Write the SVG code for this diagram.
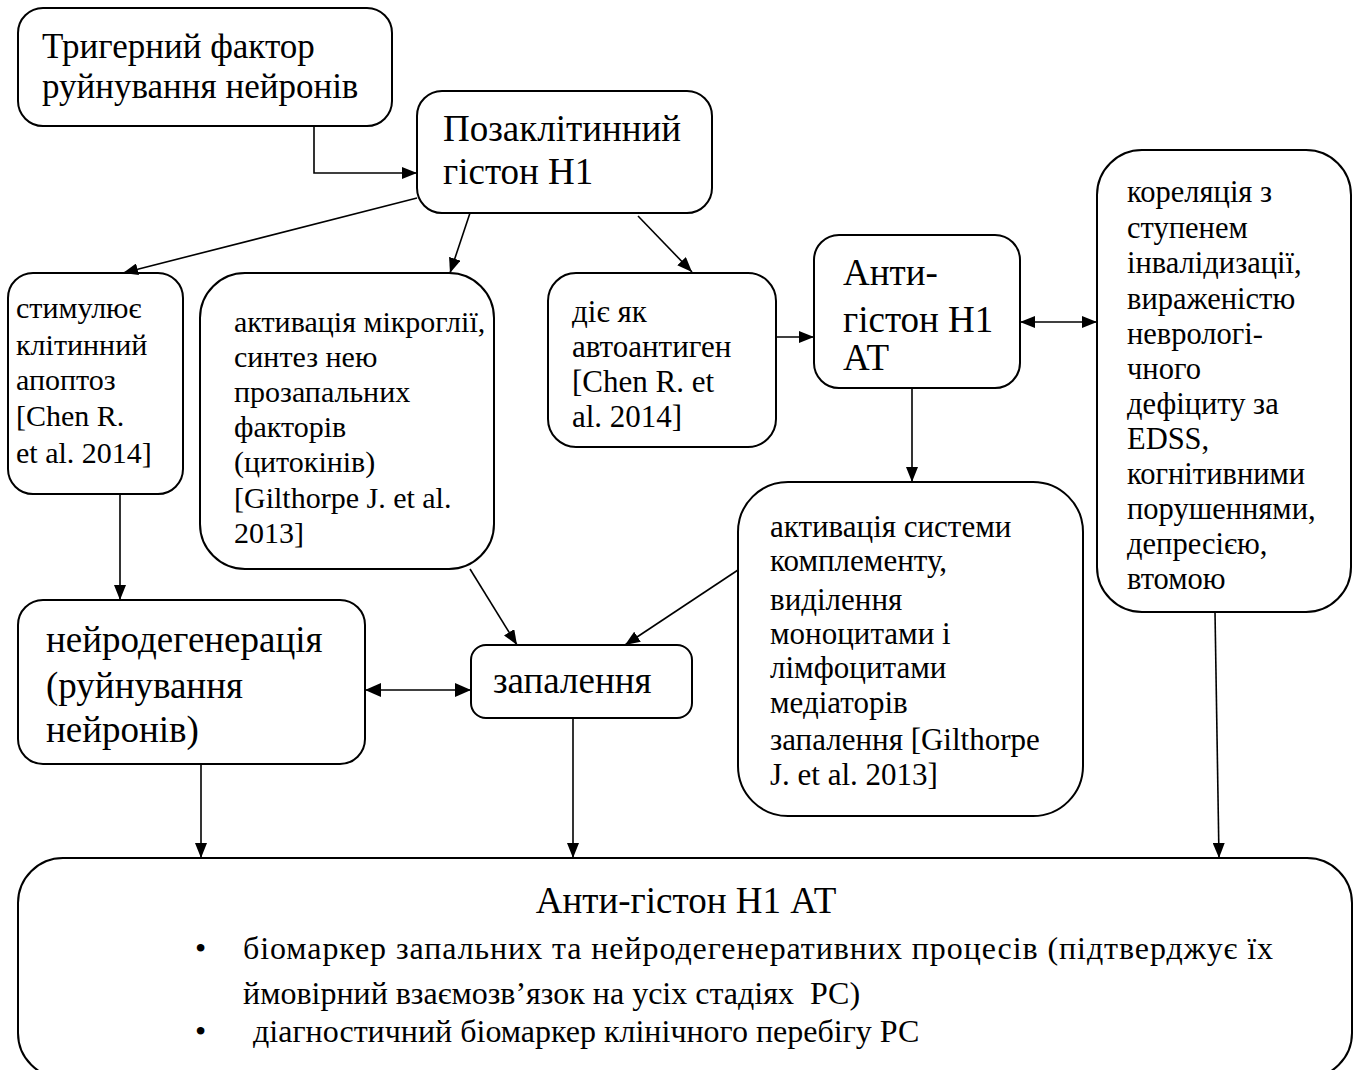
<svg xmlns="http://www.w3.org/2000/svg" width="1357" height="1070" viewBox="0 0 1357 1070">
<defs>
<marker id="ah" viewBox="0 0 15 12" refX="15" refY="6" markerWidth="15" markerHeight="12" markerUnits="userSpaceOnUse" orient="auto-start-reverse"><path d="M0,0 L15,6 L0,12 z" fill="#000"/></marker>
<marker id="ahb" viewBox="0 0 16 14" refX="16" refY="7" markerWidth="16" markerHeight="14" markerUnits="userSpaceOnUse" orient="auto-start-reverse"><path d="M0,0 L16,7 L0,14 z" fill="#000"/></marker>
<style>
.box{fill:#fff;stroke:#000;stroke-width:2}
.t{font-family:"Liberation Serif","Times New Roman",serif;fill:#000}
.c{fill:none;stroke:#000;stroke-width:1.6}
</style>
</defs>
<rect width="1357" height="1070" fill="#fff"/>
<g id="n-trigger"><rect class="box" x="18" y="8" width="374" height="118" rx="25"/>
<text class="t" font-size="35" x="42" y="58">Тригерний фактор</text>
<text class="t" font-size="35" x="42" y="98">руйнування нейронів</text></g>
<g id="n-histone"><rect class="box" x="417" y="91" width="295" height="122" rx="25"/>
<text class="t" font-size="37" x="443" y="141">Позаклітинний</text>
<text class="t" font-size="37" x="443" y="184">гістон Н1</text></g>
<g id="n-apoptosis"><rect class="box" x="8" y="273" width="175" height="221" rx="25"/>
<text class="t" font-size="30" x="16" y="318">стимулює</text>
<text class="t" font-size="30" x="16" y="355">клітинний</text>
<text class="t" font-size="30" x="16" y="390">апоптоз</text>
<text class="t" font-size="30" x="16" y="426">[Chen R.</text>
<text class="t" font-size="30" x="16" y="463">et al. 2014]</text></g>
<g id="n-microglia"><rect class="box" x="200" y="273" width="294" height="296" rx="45"/>
<text class="t" font-size="30" x="234" y="332">активація мікроглії,</text>
<text class="t" font-size="30" x="234" y="367">синтез нею</text>
<text class="t" font-size="30" x="234" y="402">прозапальних</text>
<text class="t" font-size="30" x="234" y="437">факторів</text>
<text class="t" font-size="30" x="234" y="472">(цитокінів)</text>
<text class="t" font-size="30" x="234" y="508">[Gilthorpe J. et al.</text>
<text class="t" font-size="30" x="234" y="543">2013]</text></g>
<g id="n-autoantigen"><rect class="box" x="548" y="273" width="228" height="174" rx="28"/>
<text class="t" font-size="31" x="572" y="322">діє як</text>
<text class="t" font-size="31" x="572" y="357">автоантиген</text>
<text class="t" font-size="31" x="572" y="392">[Chen R. et</text>
<text class="t" font-size="31" x="572" y="427">al. 2014]</text></g>
<g id="n-antibody"><rect class="box" x="814" y="235" width="206" height="153" rx="25"/>
<text class="t" font-size="37" x="843" y="285">Анти-</text>
<text class="t" font-size="37" x="843" y="332">гістон Н1</text>
<text class="t" font-size="37" x="843" y="370">АТ</text></g>
<g id="n-correlation"><rect class="box" x="1097" y="150" width="254" height="462" rx="45"/>
<text class="t" font-size="30.5" x="1127" y="202">кореляція з</text>
<text class="t" font-size="30.5" x="1127" y="238">ступенем</text>
<text class="t" font-size="30.5" x="1127" y="273">інвалідизації,</text>
<text class="t" font-size="30.5" x="1127" y="309">вираженістю</text>
<text class="t" font-size="30.5" x="1127" y="344">неврологі-</text>
<text class="t" font-size="30.5" x="1127" y="379">чного</text>
<text class="t" font-size="30.5" x="1127" y="414">дефіциту за</text>
<text class="t" font-size="30.5" x="1127" y="449">EDSS,</text>
<text class="t" font-size="30.5" x="1127" y="484">когнітивними</text>
<text class="t" font-size="30.5" x="1127" y="519">порушеннями,</text>
<text class="t" font-size="30.5" x="1127" y="554">депресією,</text>
<text class="t" font-size="30.5" x="1127" y="589">втомою</text></g>
<g id="n-complement"><rect class="box" x="738" y="482" width="345" height="334" rx="50"/>
<text class="t" font-size="31" x="770" y="537">активація системи</text>
<text class="t" font-size="31" x="770" y="571">комплементу,</text>
<text class="t" font-size="31" x="770" y="610">виділення</text>
<text class="t" font-size="31" x="770" y="644">моноцитами і</text>
<text class="t" font-size="31" x="770" y="678">лімфоцитами</text>
<text class="t" font-size="31" x="770" y="713">медіаторів</text>
<text class="t" font-size="31" x="770" y="750">запалення [Gilthorpe</text>
<text class="t" font-size="31" x="770" y="785">J. et al. 2013]</text></g>
<g id="n-neurodeg"><rect class="box" x="18" y="600" width="347" height="164" rx="25"/>
<text class="t" font-size="37" x="46" y="652">нейродегенерація</text>
<text class="t" font-size="37" x="46" y="698">(руйнування</text>
<text class="t" font-size="37" x="46" y="742">нейронів)</text></g>
<g id="n-inflammation"><rect class="box" x="471" y="645" width="221" height="73" rx="15"/>
<text class="t" font-size="37" x="493" y="693">запалення</text></g>
<g id="n-biomarker"><rect class="box" x="18" y="858" width="1334" height="220" rx="45"/>
<text class="t" font-size="37" x="686" y="913" text-anchor="middle">Анти-гістон Н1 АТ</text>
<text class="t" font-size="32" x="195" y="959">•</text>
<text class="t" font-size="32" x="243" y="959" textLength="1030" lengthAdjust="spacing">біомаркер запальних та нейродегенеративних процесів (підтверджує їх</text>
<text class="t" font-size="32" x="243" y="1004" xml:space="preserve">ймовірний взаємозв’язок на усіх стадіях  РС)</text>
<text class="t" font-size="32" x="195" y="1042">•</text>
<text class="t" font-size="32" x="253" y="1042">діагностичний біомаркер клінічного перебігу РС</text></g>
<g id="connectors">
<polyline class="c" points="314,126 314,173 417,173" marker-end="url(#ah)"/>
<line class="c" x1="417" y1="198" x2="123" y2="273" marker-end="url(#ah)"/>
<line class="c" x1="470" y1="213" x2="450" y2="273" marker-end="url(#ah)"/>
<line class="c" x1="638" y1="216" x2="692" y2="272" marker-end="url(#ah)"/>
<line class="c" x1="776" y1="337" x2="814" y2="337" marker-end="url(#ah)"/>
<line class="c" x1="1020" y1="322" x2="1097" y2="322" stroke-width="2.5" marker-start="url(#ah)" marker-end="url(#ah)"/>
<line class="c" x1="912" y1="388" x2="912" y2="482" marker-end="url(#ah)"/>
<line class="c" x1="120" y1="494" x2="120" y2="600" marker-end="url(#ah)"/>
<line class="c" x1="470" y1="569" x2="517" y2="645" marker-end="url(#ah)"/>
<line class="c" x1="738" y1="570" x2="625" y2="645" marker-end="url(#ah)"/>
<line class="c" x1="365" y1="690" x2="471" y2="690" stroke-width="3" marker-start="url(#ahb)" marker-end="url(#ahb)"/>
<line class="c" x1="201" y1="764" x2="201" y2="858" marker-end="url(#ah)"/>
<line class="c" x1="573" y1="718" x2="573" y2="858" marker-end="url(#ah)"/>
<line class="c" x1="1215" y1="612" x2="1219" y2="858" marker-end="url(#ah)"/>
</g>
</svg>
